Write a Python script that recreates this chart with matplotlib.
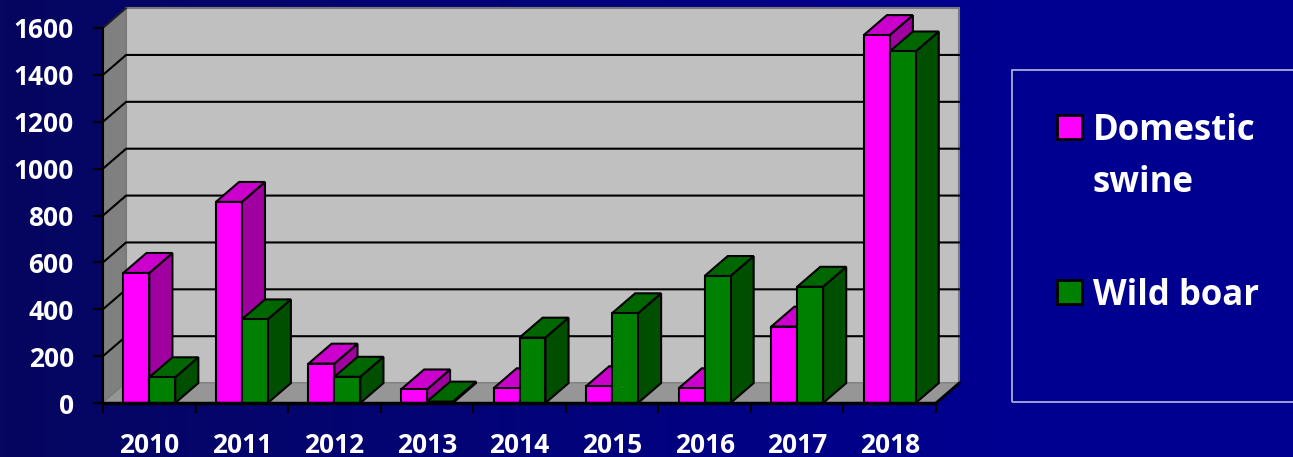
import numpy as np
import matplotlib
matplotlib.use('Agg')
import matplotlib.pyplot as plt
from matplotlib.patches import Polygon, Rectangle
from matplotlib.colors import LinearSegmentedColormap

years = ['2010', '2011', '2012', '2013', '2014', '2015', '2016', '2017', '2018']
domestic_swine = [555, 858, 168, 58, 63, 72, 63, 326, 1570]
wild_boar = [110, 357, 112, 6, 279, 383, 542, 496, 1500]
y_ticks = [0, 200, 400, 600, 800, 1000, 1200, 1400, 1600]

plt.rcParams['font.family'] = ['Open Sans', 'DejaVu Sans']
plt.rcParams['font.weight'] = 'bold'

W, H = 1293, 457
fig = plt.figure(figsize=(W / 100, H / 100), dpi=100)

# navy background, a bit darker on the left
bg = fig.add_axes([0, 0, 1, 1])
bg.axis('off')
grad = np.clip(np.linspace(0, 1.3, 256), 0, 1).reshape(1, -1)
bg.imshow(grad, aspect='auto', extent=[0, 1, 0, 1],
          cmap=LinearSegmentedColormap.from_list('bg', ['#060660', '#000090']))

ax = fig.add_axes([103 / W, 54 / H, 833 / W, 375 / H])
ax.set_xlim(-0.5, len(years) - 0.5)
ax.set_ylim(0, y_ticks[-1])
ax.patch.set_visible(False)

DX, DY = 0.25, 85   # depth of the fake 3d box, in data units
BW = 0.28


def poly(pts, fc, ec='black', lw=1.5, z=1):
    ax.add_patch(Polygon(pts, closed=True, facecolor=fc, edgecolor=ec,
                         linewidth=lw, zorder=z, clip_on=False, joinstyle='miter'))


def bar3d(left, h, front, top, side):
    r = left + BW
    poly([(r, 0), (r + DX, DY), (r + DX, h + DY), (r, h)], side, z=3)
    poly([(left, h), (r, h), (r + DX, h + DY), (left + DX, h + DY)], top, z=3)
    poly([(left, 0), (r, 0), (r, h), (left, h)], front, z=3)


x0, x1 = -0.5, len(years) - 0.5
ytop = y_ticks[-1]
poly([(x0, 0), (x0, ytop), (x0 + DX, ytop + DY), (x0 + DX, DY)], '#808080', ec='#303030', lw=1)
poly([(x0 + DX, DY), (x0 + DX, ytop + DY), (x1 + DX, ytop + DY), (x1 + DX, DY)], '#C0C0C0', ec='#7a7a7a', lw=1.5)
poly([(x0, 0), (x1, 0), (x1 + DX, DY), (x0 + DX, DY)], '#969696', ec='#8a8a8a', lw=1)

for v in y_ticks[1:-1]:
    ax.plot([x0, x0 + DX, x1 + DX], [v, v + DY, v + DY], color='black', lw=1.5,
            clip_on=False, zorder=2, solid_joinstyle='miter')
ax.plot([x0, x0 + DX], [ytop, ytop + DY], color='#202020', lw=1.2, clip_on=False, zorder=2)
ax.plot([x1, x1 + DX], [0, DY], color='black', lw=2, clip_on=False, zorder=2)

for i in range(len(years)):
    bar3d(i - BW, domestic_swine[i], '#FF00FF', '#CC00CC', '#A000A0')
    bar3d(i, wild_boar[i], '#008000', '#006600', '#004F00')

for s in ['top', 'right']:
    ax.spines[s].set_visible(False)
ax.spines['left'].set_color('black')
ax.spines['left'].set_linewidth(1.5)
ax.spines['bottom'].set_color('black')
ax.spines['bottom'].set_linewidth(2.5)
ax.spines['bottom'].set_zorder(4)

ax.set_yticks(y_ticks)
ax.tick_params(axis='y', length=7, width=1.5, color='black', pad=14,
               labelcolor='white', labelsize=19)
ax.set_xticks(np.arange(-0.5, len(years), 1))
ax.set_xticklabels([])
ax.set_xticks(range(len(years)), minor=True)
ax.set_xticklabels(years, minor=True)
ax.tick_params(axis='x', which='major', length=7, width=1.5, color='black')
ax.tick_params(axis='x', which='minor', length=0, pad=21, labelcolor='white', labelsize=19)

# legend box
fig.add_artist(Rectangle((1012 / W, 1 - 402 / H), 300 / W, 332 / H, transform=fig.transFigure,
                         fill=False, edgecolor='#B8B8E0', lw=1.2))
fig.add_artist(Rectangle((1057 / W, 1 - 139 / H), 25 / W, 24 / H, transform=fig.transFigure,
                         facecolor='#FF00FF', edgecolor='black', lw=2))
fig.add_artist(Rectangle((1057 / W, 1 - 304 / H), 25 / W, 24 / H, transform=fig.transFigure,
                         facecolor='#008000', edgecolor='black', lw=2))
fig.text(1093 / W, 1 - 140 / H, 'Domestic', color='white', fontsize=25, va='baseline')
fig.text(1093 / W, 1 - 192 / H, 'swine', color='white', fontsize=25, va='baseline')
fig.text(1093 / W, 1 - 305 / H, 'Wild boar', color='white', fontsize=25, va='baseline')

fig.savefig('out.png', dpi=100)
